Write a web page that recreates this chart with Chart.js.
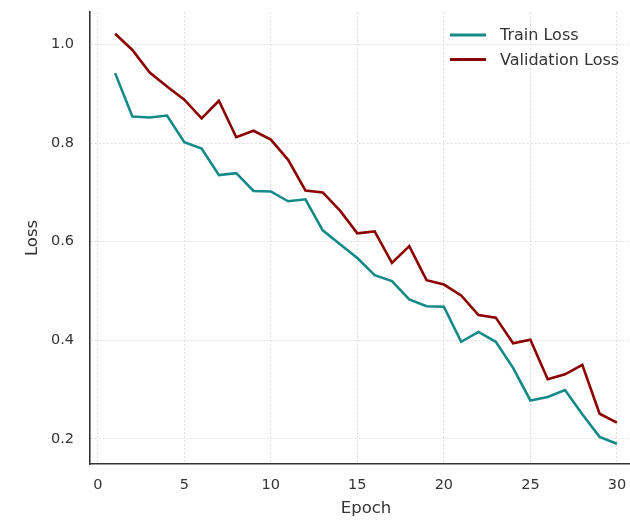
<!DOCTYPE html>
<html>
<head>
<meta charset="utf-8">
<script src="https://cdn.jsdelivr.net/npm/chart.js@4.4.1/dist/chart.umd.min.js"></script>
<style>
  html, body { margin: 0; padding: 0; background: #fff; overflow: hidden; }
  #wrap { width: 642px; height: 521px; }
</style>
</head>
<body>
<div id="wrap"><canvas id="chart"></canvas></div>
<script>
// Valores
const epochs = [1,2,3,4,5,6,7,8,9,10,11,12,13,14,15,16,17,18,19,20,21,22,23,24,25,26,27,28,29,30];
const trainLoss = [0.942,0.854,0.852,0.856,0.802,0.789,0.735,0.739,0.703,0.702,
                   0.682,0.686,0.623,0.595,0.567,0.532,0.520,0.483,0.469,0.468,
                   0.397,0.417,0.397,0.344,0.278,0.285,0.299,0.250,0.204,0.190];
const valLoss = [1.022,0.989,0.943,0.915,0.888,0.850,0.886,0.812,0.825,0.807,
                 0.766,0.704,0.700,0.663,0.617,0.621,0.557,0.591,0.522,0.513,
                 0.491,0.451,0.446,0.394,0.401,0.321,0.331,0.350,0.251,0.233];
const xTicks = [0, 5, 10, 15, 20, 25, 30];
const yTicks = [0.2, 0.4, 0.6, 0.8, 1.0];

const FONT = 'DejaVu Sans';
const TEXT = '#333333';

// Legenda dentro da área do gráfico (canto superior direito)
const innerLegend = {
  id: 'innerLegend',
  afterDraw(chart) {
    const ctx = chart.ctx;
    ctx.save();
    ctx.font = '16px "' + FONT + '"';
    ctx.textBaseline = 'middle';
    ctx.fillStyle = TEXT;
    chart.data.datasets.forEach((ds, i) => {
      const y = 35 + i * 24.5;
      ctx.strokeStyle = ds.borderColor;
      ctx.lineWidth = 3;
      ctx.beginPath();
      ctx.moveTo(450, y);
      ctx.lineTo(486, y);
      ctx.stroke();
      ctx.fillText(ds.label, 500, y + 1);
    });
    ctx.restore();
  }
};

const gridOpts = {
  color: '#d6d6d6',
  lineWidth: 0.8,
  drawTicks: false
};

new Chart(document.getElementById('chart').getContext('2d'), {
  type: 'line',
  data: {
    datasets: [{
      label: 'Train Loss',
      data: epochs.map((e, i) => ({ x: e, y: trainLoss[i] })),
      borderColor: '#138a87',
      borderWidth: 2.6,
      pointRadius: 0,
      tension: 0
    }, {
      label: 'Validation Loss',
      data: epochs.map((e, i) => ({ x: e, y: valLoss[i] })),
      borderColor: '#8b0000',
      borderWidth: 2.6,
      pointRadius: 0,
      tension: 0
    }]
  },
  options: {
    responsive: true,
    maintainAspectRatio: false,
    animation: false,
    layout: { padding: { top: 12, right: 0, bottom: 0, left: 0 } },
    plugins: {
      legend: { display: false },
      tooltip: { enabled: false }
    },
    scales: {
      x: {
        type: 'linear',
        min: -0.45,
        max: 31.45,
        afterBuildTicks: s => { s.ticks = xTicks.map(v => ({ value: v })); },
        afterFit: s => { s.height = 57; s.paddingLeft = 0; s.paddingRight = 0; },
        grid: { ...gridOpts },
        border: { display: true, color: '#333333', width: 1.6, dash: [2, 2] },
        ticks: {
          color: TEXT,
          padding: 13,
          font: { family: FONT, size: 14.5 },
          callback: v => String(v)
        },
        title: {
          display: true,
          text: 'Epoch',
          color: TEXT,
          font: { family: FONT, size: 16.5 },
          padding: { top: 0, bottom: 2 }
        }
      },
      y: {
        min: 0.149,
        max: 1.066,
        afterBuildTicks: s => { s.ticks = yTicks.map(v => ({ value: v })); },
        afterFit: s => { s.width = 90; s.paddingTop = 0; s.paddingBottom = 0; },
        grid: { ...gridOpts },
        border: { display: true, color: '#333333', width: 1.6, dash: [2, 2] },
        ticks: {
          color: TEXT,
          padding: 16,
          font: { family: FONT, size: 14.5 },
          callback: v => v.toFixed(1)
        },
        title: {
          display: true,
          text: 'Loss',
          color: TEXT,
          font: { family: FONT, size: 16.5 },
          padding: { top: 23, bottom: 0 }
        }
      }
    }
  },
  plugins: [innerLegend]
});
</script>
</body>
</html>
